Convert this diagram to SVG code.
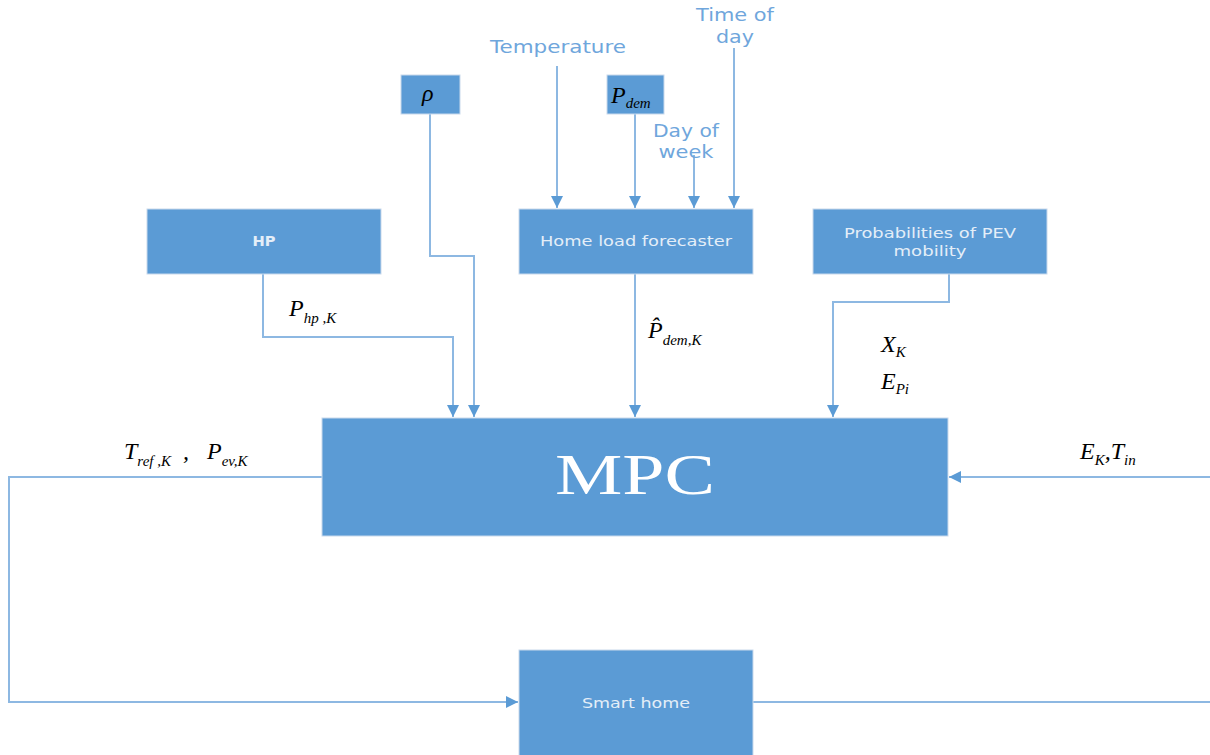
<svg xmlns="http://www.w3.org/2000/svg" width="1210" height="755" viewBox="0 0 1210 755">
<style>
.box{fill:#5B9BD5;stroke:#C9D9EC;stroke-width:1}
.ln{fill:none;stroke:#8DB8E2;stroke-width:2}
.lbl{font-family:"DejaVu Sans","Open Sans",sans-serif;fill:#6FA6DC;font-size:17px;text-anchor:middle}
.bt{font-family:"DejaVu Sans","Open Sans",sans-serif;fill:#E4EEF8;font-size:14px;text-anchor:middle}
.m{font-family:"Liberation Serif",serif;font-style:italic;fill:#000;font-size:24px}
.s{font-size:15px}
</style>
<defs>
<marker id="ah" viewBox="0 0 10 10" refX="10" refY="5" markerWidth="12" markerHeight="12" markerUnits="userSpaceOnUse" orient="auto">
<path d="M0,0 L10,5 L0,10 z" fill="#5B9BD5"/>
</marker>
</defs>
<rect width="1210" height="755" fill="#fff"/>
<g id="connectors">
<path class="ln" d="M557,66 V208" marker-end="url(#ah)"/>
<path class="ln" d="M635,114 V208" marker-end="url(#ah)"/>
<path class="ln" d="M694,155 V208" marker-end="url(#ah)"/>
<path class="ln" d="M734,48 V208" marker-end="url(#ah)"/>
<path class="ln" d="M430,114 V256 H474 V417" marker-end="url(#ah)"/>
<path class="ln" d="M263,274 V337 H453 V417" marker-end="url(#ah)"/>
<path class="ln" d="M635,274 V417" marker-end="url(#ah)"/>
<path class="ln" d="M949,274 V302 H833 V417" marker-end="url(#ah)"/>
<path class="ln" d="M322,477 H9 V702 H518" marker-end="url(#ah)"/>
<path class="ln" d="M753,702 H1210"/>
<path class="ln" d="M1210,477 H949" marker-end="url(#ah)"/>
</g>
<g id="labels">
<text class="lbl" x="558" y="53" textLength="136" lengthAdjust="spacingAndGlyphs">Temperature</text>
<text class="lbl" x="735" y="21" textLength="78" lengthAdjust="spacingAndGlyphs">Time of</text>
<text class="lbl" x="735" y="43" textLength="38" lengthAdjust="spacingAndGlyphs">day</text>
<text class="lbl" x="686" y="137" textLength="66" lengthAdjust="spacingAndGlyphs">Day of</text>
<text class="lbl" x="686" y="158" textLength="55" lengthAdjust="spacingAndGlyphs">week</text>
<text class="m" x="289" y="316">P<tspan class="s" dy="7">hp ,K</tspan></text>
<text class="m" x="648" y="338">P&#x302;<tspan class="s" dy="7">dem,K</tspan></text>
<text class="m" x="881" y="352">X<tspan class="s" dy="5">K</tspan></text>
<text class="m" x="881" y="389">E<tspan class="s" dy="5">Pi</tspan></text>
<text class="m" x="124" y="459" xml:space="preserve">T<tspan class="s" dy="7">ref ,K</tspan><tspan dy="-7">  ,   P</tspan><tspan class="s" dy="7">ev,K</tspan></text>
<text class="m" x="1080" y="459">E<tspan class="s" dy="6">K</tspan><tspan dy="-6">,T</tspan><tspan class="s" dy="6">in</tspan></text>
</g>
<g id="rho"><rect class="box" x="401" y="75" width="59" height="39"/><text class="m" x="422" y="101">ρ</text></g>
<g id="pdem"><rect class="box" x="607" y="75" width="57" height="39"/><text class="m" x="611" y="103">P<tspan class="s" dy="5">dem</tspan></text></g>
<g id="hp"><rect class="box" x="147" y="209" width="234" height="65"/><text class="bt" x="264" y="246" font-weight="bold" textLength="23" lengthAdjust="spacingAndGlyphs">HP</text></g>
<g id="hlf"><rect class="box" x="519" y="209" width="234" height="65"/><text class="bt" x="636" y="246" textLength="192" lengthAdjust="spacingAndGlyphs">Home load forecaster</text></g>
<g id="pev"><rect class="box" x="813" y="209" width="234" height="65"/><text class="bt" x="930" y="238" textLength="172" lengthAdjust="spacingAndGlyphs">Probabilities of PEV</text><text class="bt" x="930" y="256" textLength="73" lengthAdjust="spacingAndGlyphs">mobility</text></g>
<g id="mpc"><rect class="box" x="322" y="418" width="626" height="118"/><text x="635" y="494" font-family="Liberation Serif,serif" font-size="56" fill="#fff" text-anchor="middle" textLength="160" lengthAdjust="spacingAndGlyphs">MPC</text></g>
<g id="smarthome"><rect class="box" x="519" y="650" width="234" height="110"/><text class="bt" x="636" y="708" textLength="108" lengthAdjust="spacingAndGlyphs">Smart home</text></g>
</svg>
